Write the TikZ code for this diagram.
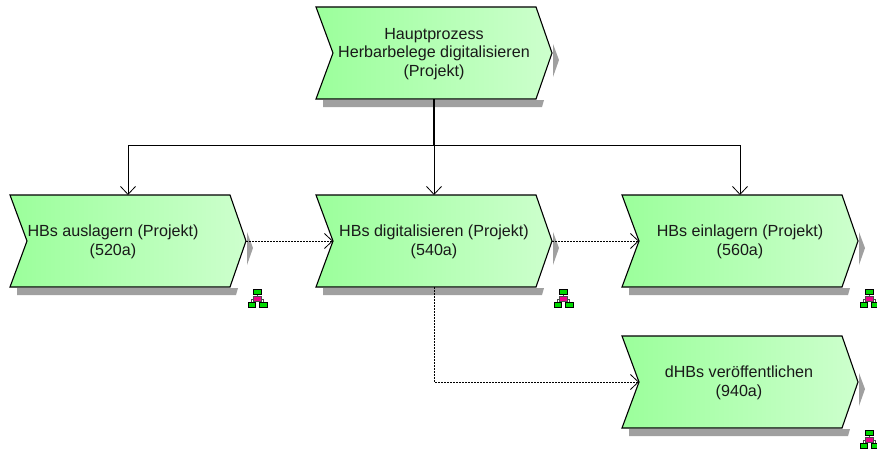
\documentclass[tikz,border=0pt]{standalone}
\usepackage{fontspec}
\setmainfont{Liberation Sans}
\usetikzlibrary{arrows.meta}
\definecolor{fnleft}{RGB}{155,255,155}
\definecolor{fnright}{RGB}{205,255,205}
\definecolor{shadowgray}{RGB}{160,160,160}
\tikzset{
  x=1pt,y=-1pt,
  fnbody/.style={draw=black,line width=1.1pt,left color=fnleft,right color=fnright,line join=miter},
  fnshadow/.style={fill=shadowgray,draw=none},
  fnbox/.style={minimum width=236pt,minimum height=92pt,inner sep=0pt,outer sep=0pt},
  fntext/.style={font=\fontsize{16.1pt}{18.8pt}\selectfont,align=center,text=black!90,inner sep=0pt},
  link/.style={line width=0.8pt,-{Straight Barb[length=8pt,width=15pt,line width=0.8pt]}},
  dotlink/.style={line width=0.8pt,dash pattern=on 1.8pt off 1.2pt},
  dothead/.style={line width=0.8pt,-{Straight Barb[length=8pt,width=15pt,line width=0.8pt]}},
  icongreen/.style={fill=green!85!black,draw=black,line width=0.7pt},
  iconpink/.style={fill=magenta,draw=black!70,line width=0.7pt},
}
% name, left x, top y, text, text x-offset
\newcommand{\fnshape}[5]{%
  \begin{scope}[shift={(#2,#3)}]
    \fill[fnshadow] (7,93) -- (228,93) -- (226,100) -- (7,100) -- cycle;
    \fill[fnshadow] (237,37) -- (243,53) -- (237,70) -- cycle;
    \path[fnbody] (0,0) -- (220,0) -- (236,46) -- (220,92) -- (0,92) -- (17,46) -- cycle;
    \node[fnbox] (#1) at (118,46) {};
    \coordinate (#1-in) at (17,46);
    \node[fntext] (#1-label) at (118+#5,47) {#4};
  \end{scope}}
\newcommand{\fnicon}[3]{%
  \begin{scope}[shift={(#2,#3)}]
    \draw[black!70,line width=0.7pt] (9.5,5) -- (9.5,8);
    \draw[black!70,line width=0.7pt] (3.5,13) -- (3.5,10) -- (15.5,10) -- (15.5,13);
    \node[icongreen,minimum width=8pt,minimum height=5.2pt,inner sep=0pt] (#1-top) at (9.5,2.8) {};
    \node[iconpink,minimum width=8pt,minimum height=5.2pt,inner sep=0pt] (#1-mid) at (9.5,10) {};
    \node[icongreen,minimum width=7.4pt,minimum height=5.2pt,inner sep=0pt] (#1-left) at (3.8,16.2) {};
    \node[icongreen,minimum width=7.4pt,minimum height=5.2pt,inner sep=0pt] (#1-right) at (15.2,16.2) {};
  \end{scope}}
\begin{document}
\begin{tikzpicture}
\useasboundingbox (0,0) rectangle (877,452);
\fnshape{main}{316}{7}{Hauptprozess\\Herbarbelege digitalisieren\\(Projekt)}{0}
\fnshape{a}{10}{195}{HBs auslagern (Projekt)\\(520a)}{-15}
\fnshape{b}{316}{195}{HBs digitalisieren (Projekt)\\(540a)}{0}
\fnshape{c}{622}{195}{HBs einlagern (Projekt)\\(560a)}{0}
\fnshape{d}{622}{336}{dHBs veröffentlichen\\(940a)}{-1}
\fnicon{ia}{248}{289}
\fnicon{ib}{554}{289}
\fnicon{ic}{860}{289}
\fnicon{id}{860}{430}
\coordinate (bus) at (main.south |- 0,145);
\draw[line width=1.8pt] (main.south) -- (bus);
\draw[link] (bus) -| (a.north);
\draw[link] (bus) -- (b.north);
\draw[link] (bus) -| (c.north);
\draw[dotlink] (a.east) -- (b-in);
\draw[dothead] ([xshift=-1pt]b-in) -- (b-in);
\draw[dotlink] (b.east) -- (c-in);
\draw[dothead] ([xshift=-1pt]c-in) -- (c-in);
\draw[dotlink] (b.south) |- (d-in);
\draw[dothead] ([xshift=-1pt]d-in) -- (d-in);
\end{tikzpicture}
\end{document}
